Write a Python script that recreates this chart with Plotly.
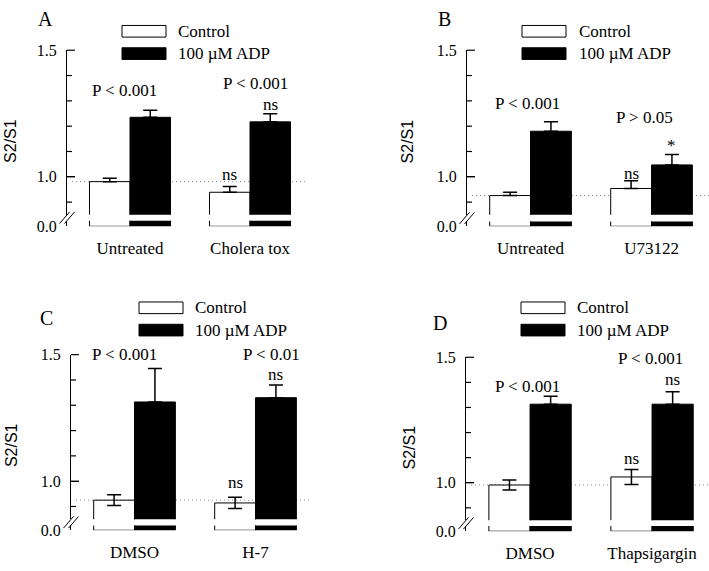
import plotly.graph_objects as go

W, H = 709, 571

# ---------------- data ----------------
series_names = ["Control", "100 µM ADP"]

cats_A = ["Untreated", "Cholera tox"]
ctrl_A = [0.981, 0.939]
ctrl_A_err = [0.013, 0.023]
adp_A = [1.235, 1.217]
adp_A_err = [0.028, 0.032]

cats_B = ["Untreated", "U73122"]
ctrl_B = [0.926, 0.954]
ctrl_B_err = [0.013, 0.030]
adp_B = [1.180, 1.047]
adp_B_err = [0.037, 0.041]

cats_C = ["DMSO", "H-7"]
ctrl_C = [0.925, 0.914]
ctrl_C_err = [0.021, 0.022]
adp_C = [1.313, 1.330]
adp_C_err = [0.132, 0.050]

cats_D = ["DMSO", "Thapsigargin"]
ctrl_D = [0.991, 1.023]
ctrl_D_err = [0.020, 0.030]
adp_D = [1.313, 1.313]
adp_D_err = [0.032, 0.050]

upper_range = [0.85, 1.5]
major_ticks = [1.0, 1.5]
major_tick_text = ["1.0", "1.5"]
minor_ticks = [0.9, 1.1, 1.2, 1.3, 1.4]
lower_range = [0.0, 0.1]
lower_ticks = [0.0]
lower_tick_text = ["0.0"]

panel_letters = ["A", "B", "C", "D"]
# (text, x in category units, y in data units, extra pixel shift)
notes_A = [("P < 0.001", -0.042, 1.341, 0), ("P < 0.001", 1.042, 1.368, 0),
           ("ns", 1.169, 1.284, 0), ("ns", 0.831, 1.011, 0)]
notes_B = [("P < 0.001", -0.029, 1.291, 0), ("P > 0.05", 0.938, 1.234, 0),
           ("*", 1.169, 1.123, 0), ("ns", 0.831, 1.015, 0)]
notes_C = [("P < 0.001", -0.079, 1.49, 3), ("P < 0.01", 1.128, 1.49, 3),
           ("ns", 1.169, 1.422, 0), ("ns", 0.831, 0.995, 0)]
notes_D = [("P < 0.001", -0.025, 1.384, 0), ("P < 0.001", 0.984, 1.49, 1),
           ("ns", 1.169, 1.411, 0), ("ns", 0.831, 1.098, 0)]

# ---------------- layout geometry (pixels) ----------------
panels = [
    dict(cats=cats_A, ctrl=ctrl_A, ce=ctrl_A_err, adp=adp_A, ae=adp_A_err, sym=False, notes=notes_A,
         L=67, s=120, R=307, top=43.5, one=174.0, lt=219.3, lb=225.0,
         leg=(122, 18, 176), letter=(45, -2), ytitle=(11, 137)),
    dict(cats=cats_B, ctrl=ctrl_B, ce=ctrl_B_err, adp=adp_B, ae=adp_B_err, sym=False, notes=notes_B,
         L=467, s=121, R=709, top=43.5, one=174.0, lt=220.0, lb=225.0,
         leg=(522, 18, 577), letter=(444, -2), ytitle=(407.5, 138)),
    dict(cats=cats_C, ctrl=ctrl_C, ce=ctrl_C_err, adp=adp_C, ae=adp_C_err, sym=True, notes=notes_C,
         L=71, s=121, R=312, top=357.3, one=487.7, lt=533.3, lb=538.3,
         leg=(139, 303, 193), letter=(47, 306), ytitle=(11.5, 451)),
    dict(cats=cats_D, ctrl=ctrl_D, ce=ctrl_D_err, adp=adp_D, ae=adp_D_err, sym=True, notes=notes_D,
         L=466, s=122, R=709, top=360.0, one=489.3, lt=534.0, lb=539.3,
         leg=(521, 303, 575), letter=(440, 311), ytitle=(410, 453)),
]


def fx(p):
    return p / W


def fy(p):
    return 1 - p / H


def axname(letter, n):
    return letter if n == 1 else f"{letter}{n}"


SERIF = "Liberation Serif, Times New Roman, serif"
SANS = "Liberation Sans, Arial, sans-serif"

fig = go.Figure()
layout = dict(width=W, height=H, autosize=False,
              margin=dict(l=0, r=0, t=0, b=0, pad=0),
              paper_bgcolor="white", plot_bgcolor="white",
              barmode="group", bargap=0.325, bargroupgap=0,
              showlegend=False, font=dict(family=SERIF, size=16, color="black"))
shapes = []
annotations = []

for i, p in enumerate(panels):
    u = 2 * i + 1
    l = 2 * i + 2
    xu, yu = axname("x", u), axname("y", u)
    xl, yl = axname("x", l), axname("y", l)
    xr = [-0.525, -0.525 + (p["R"] - p["L"]) / p["s"]]
    xdom = [fx(p["L"]), min(1.0, fx(p["R"]))]
    unit = (p["one"] - p["top"]) / 0.5
    ub = p["one"] + (1.0 - upper_range[0]) * unit
    udom = [fy(ub), fy(p["top"])]
    ldom = [fy(p["lb"]), fy(p["lt"])]

    minus_ctrl = p["ce"] if p["sym"] else [0] * len(p["ce"])
    for xa, ya, with_err in ((xu, yu, True), (xl, yl, False)):
        ctrl_kw = dict(
            x=p["cats"], y=p["ctrl"], name=series_names[0], xaxis=xa, yaxis=ya,
            marker=dict(color="white", line=dict(color="black", width=1)))
        adp_kw = dict(
            x=p["cats"], y=p["adp"], name=series_names[1], xaxis=xa, yaxis=ya,
            marker=dict(color="black", line=dict(color="black", width=1)))
        if with_err:
            ctrl_kw["error_y"] = dict(type="data", symmetric=False, array=p["ce"],
                                      arrayminus=minus_ctrl, color="black",
                                      thickness=1.5, width=7)
            adp_kw["error_y"] = dict(type="data", symmetric=False, array=p["ae"],
                                     arrayminus=[0] * len(p["ae"]), color="black",
                                     thickness=1.5, width=7)
        fig.add_trace(go.Bar(**ctrl_kw))
        fig.add_trace(go.Bar(**adp_kw))

    layout["xaxis" if u == 1 else f"xaxis{u}"] = dict(
        domain=xdom, anchor=yu, type="category", range=xr,
        showline=False, showgrid=False, zeroline=False,
        showticklabels=False, ticks="")
    layout[f"xaxis{l}"] = dict(
        domain=xdom, anchor=yl, type="category", range=xr,
        showline=False, showgrid=False, zeroline=False,
        showticklabels=True, ticks="", ticklabelstandoff=10,
        tickfont=dict(family=SERIF, size=17, color="black"))
    layout["yaxis" if u == 1 else f"yaxis{u}"] = dict(
        domain=udom, anchor=xu, range=upper_range,
        showline=True, linecolor="black", linewidth=1,
        showgrid=False, zeroline=False,
        tickmode="array", tickvals=major_ticks, ticktext=major_tick_text,
        ticks="inside", ticklen=8, tickwidth=1, tickcolor="black",
        ticklabelstandoff=6,
        tickfont=dict(family=SERIF, size=16, color="black"))
    layout[f"yaxis{l}"] = dict(
        domain=ldom, anchor=xl, range=lower_range,
        showline=True, linecolor="black", linewidth=1,
        showgrid=False, zeroline=False,
        tickmode="array", tickvals=lower_ticks, ticktext=lower_tick_text,
        ticks="", ticklabelstandoff=6,
        tickfont=dict(family=SERIF, size=16, color="black"))

    # inward tick marks on the upper axis (major 8 px, minor 5 px), placed on the axis scale
    for vals, tl in ((major_ticks, 8), (minor_ticks, 5)):
        for v in vals:
            ty = p["one"] - (v - 1.0) * unit
            shapes.append(dict(type="line", xref="paper", yref="paper",
                               x0=fx(p["L"]), x1=fx(p["L"] + tl), y0=fy(ty), y1=fy(ty),
                               line=dict(color="black", width=1.2)))

    # dotted reference line at first control value
    shapes.append(dict(type="line", xref=xu, yref=yu, layer="below",
                       x0=xr[0] + 5 / p["s"], x1=xr[1], y0=p["ctrl"][0], y1=p["ctrl"][0],
                       line=dict(color="#8a8a8a", width=1, dash="1px,3px")))

    # axis break marks
    bx = p["L"]
    bc = (ub + p["lt"]) / 2
    for off in (-2.5, 2.5):
        shapes.append(dict(type="line", xref="paper", yref="paper",
                           x0=fx(bx - 5 + off), y0=fy(bc + 6),
                           x1=fx(bx + 5 + off), y1=fy(bc - 6),
                           line=dict(color="black", width=1)))

    # legend swatches
    lx, ly, tx = p["leg"]
    shapes.append(dict(type="rect", xref="paper", yref="paper",
                       x0=fx(lx), x1=fx(lx + 44), y0=fy(ly + 12), y1=fy(ly),
                       fillcolor="white", line=dict(color="black", width=1)))
    shapes.append(dict(type="rect", xref="paper", yref="paper",
                       x0=fx(lx), x1=fx(lx + 44), y0=fy(ly + 35), y1=fy(ly + 23),
                       fillcolor="black", line=dict(color="black", width=1)))
    annotations.append(dict(text=series_names[0], xref="paper", yref="paper",
                            x=fx(tx), y=fy(ly + 6), xanchor="left", yanchor="middle",
                            showarrow=False, font=dict(family=SERIF, size=17, color="black")))
    annotations.append(dict(text=series_names[1], xref="paper", yref="paper",
                            x=fx(tx), y=fy(ly + 29), xanchor="left", yanchor="middle",
                            showarrow=False, font=dict(family=SERIF, size=17, color="black")))

    # panel letter
    annotations.append(dict(text=panel_letters[i], xref="paper", yref="paper",
                            x=fx(p["letter"][0]), y=fy(p["letter"][1]),
                            xanchor="center", yanchor="top", showarrow=False,
                            font=dict(family=SERIF, size=20, color="black")))
    # y title
    annotations.append(dict(text="S2/S1", xref="paper", yref="paper",
                            x=fx(p["ytitle"][0]), y=fy(p["ytitle"][1]),
                            xanchor="center", yanchor="middle", showarrow=False,
                            textangle=-90,
                            font=dict(family=SANS, size=16, color="black")))
    # significance notes
    for text, nx, ny, sh in p["notes"]:
        annotations.append(dict(text=text, xref=xu, yref=yu, x=nx, y=ny, yshift=sh,
                                xanchor="center", yanchor="middle", showarrow=False,
                                font=dict(family=SERIF, size=17, color="black")))

layout["shapes"] = shapes
layout["annotations"] = annotations
fig.update_layout(**layout)
fig.write_html(
    "out.html",
    config={"displayModeBar": False},
    post_script=(
        "document.documentElement.style.margin='0';"
        "document.body.style.margin='0';document.body.style.padding='0';"
        "document.body.style.overflow='hidden';"
        "var d=document.getElementsByClassName('plotly-graph-div')[0];"
        "d.style.position='fixed';d.style.left='0px';d.style.top='0px';"
    ),
)
